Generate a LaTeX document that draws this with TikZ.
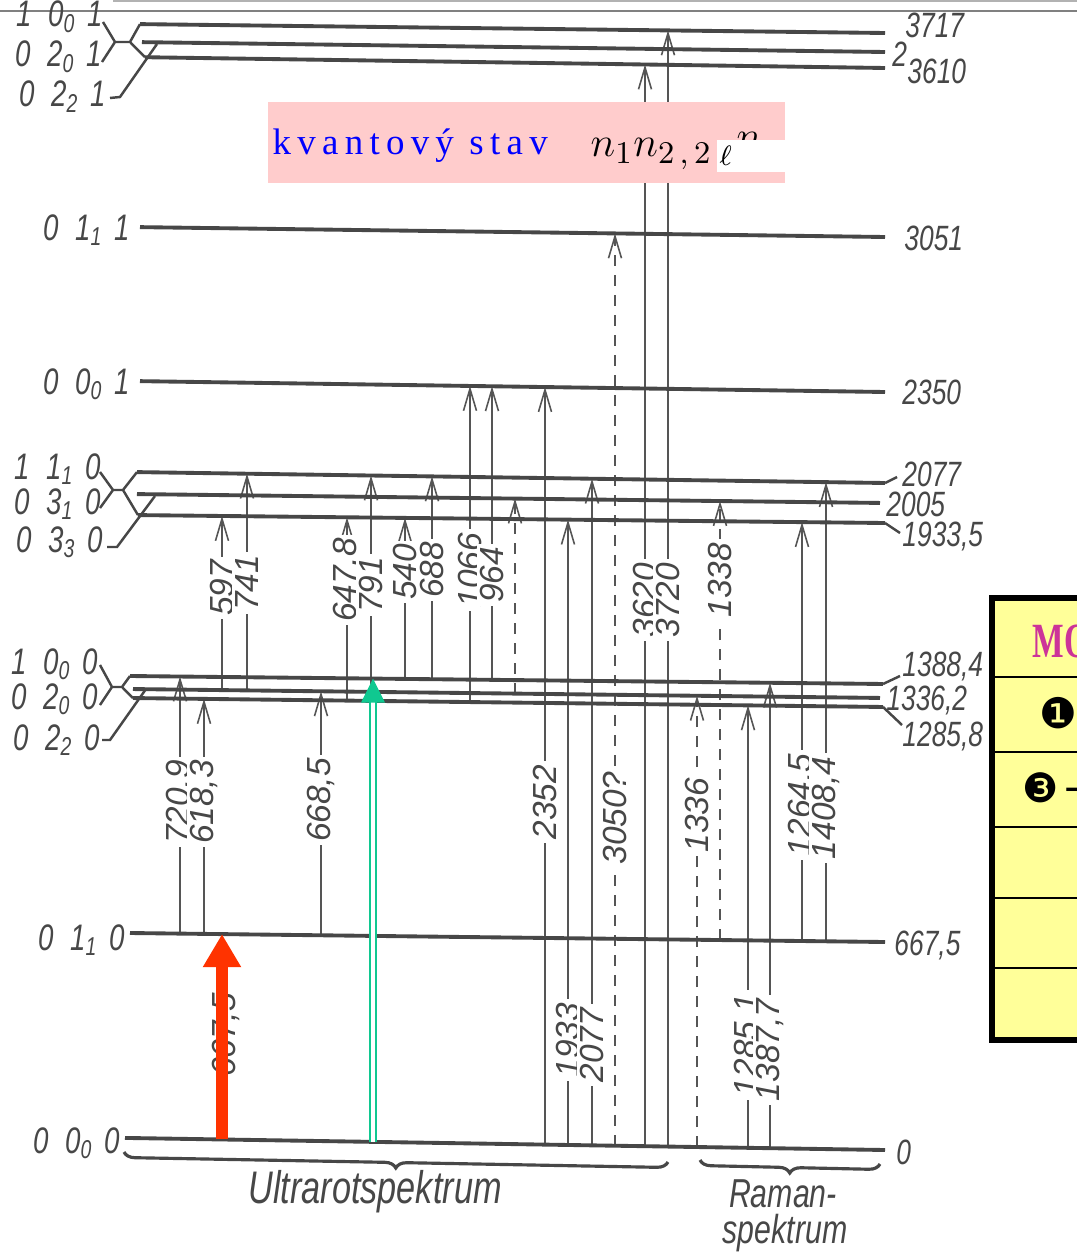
\documentclass[tikz,border=0pt]{standalone}
\usepackage{fontspec}
\setmainfont{Liberation Serif}
\newfontfamily\hand{Liberation Sans}[FakeStretch=0.75]
\newfontfamily\handw{Liberation Sans}
\newfontfamily\dings{DejaVu Sans}
\newfontfamily\kvfont{Liberation Serif}[LetterSpace=17]
\usetikzlibrary{arrows.meta,calc,decorations.pathreplacing}

\definecolor{levgray}{HTML}{474747}
\definecolor{trgray}{HTML}{555555}
\definecolor{redarr}{HTML}{FF3300}
\definecolor{grnarr}{HTML}{10C890}
\definecolor{pinkbox}{HTML}{FFCCCC}
\definecolor{tabyel}{HTML}{FFFF99}
\definecolor{tabmag}{HTML}{CC3399}

% quantum numbers n1 n2_l n3
\newcommand\qn[4]{#1\hspace{0.45em}#2\textsubscript{#3}\hspace{0.3em}#4}

\begin{document}
\begin{tikzpicture}[x=0.1mm, y=-0.1mm,
    lev/.style={draw=levgray, line width=1.1pt},
    brk/.style={draw=levgray, line width=0.7pt},
    tr/.style={draw=trgray, line width=0.45pt, -{Straight Barb[length=2.2mm,width=1.3mm]}},
    trd/.style={tr, dash pattern=on 1.1mm off 0.9mm},
    vlab/.style={font=\handw\itshape\fontsize{9.5}{10}\selectfont, text=levgray, rotate=90, fill=white, inner sep=1pt},
    llab/.style={font=\hand\itshape\fontsize{10.5}{11}\selectfont, text=levgray, inner sep=0.5pt, anchor=base east},
    rlab/.style={font=\hand\itshape\fontsize{10}{11}\selectfont, text=levgray, inner sep=0.5pt, anchor=west}]

    \fill[white] (0,0) rectangle (1077,1252);
    \useasboundingbox (0,0) rectangle (1077,1252);

    % Rahmenlinien oben
    \draw[gray!60, line width=0.6pt] (113,1) -- (1077,1);
    \draw[gray, line width=0.8pt] (0,11) -- (1077,11);

    % Niveaus (links bei x=130, rechts bei x=885)
    \foreach \n/\yl/\yr in {A1/24/33, A2/42/52, A3/57/68, B/227/237, C/381/392,
        D1/472/483, D2/494/503, D3/515/523, E1/676/684, E2/689/698, E3/698/707,
        F/933/942, G/1138/1150} {
        \coordinate (\n-l) at (130,\yl);
        \coordinate (\n-r) at (885,\yr);
    }

    % Uebergaenge: x / von / nach / Stil
    \foreach \x/\f/\t/\s in {180/F/E1/tr, 204/F/E3/tr, 321/F/E2/tr,
        222/E2/D3/tr, 247/E2/D1/tr, 347/E3/D3/tr, 371/E3/D1/tr, 405/E1/D3/tr,
        432/E1/D1/tr, 470/E3/C/tr, 492/E1/C/tr, 515/E2/D2/trd,
        545/G/C/tr, 568/G/D3/tr, 592/G/D1/tr, 615/G/B/trd, 645/G/A3/tr,
        668/G/A1/tr, 697/G/E2/trd, 748/G/E3/tr, 770/G/E1/tr,
        720/F/D2/trd, 802/F/D3/tr, 826/F/D1/tr, 222/G/F/tr}
        \draw[\s] ($(\f-l)!{(\x-130)/755}!(\f-r)$) -- ($(\t-l)!{(\x-130)/755}!(\t-r)$);

    % Wellenzahlen an den Uebergaengen
    \foreach \x/\y/\w in {180/802/{720,9}, 204/802/{618,3}, 321/800/{668,5},
        222/588/597, 247/583/741, 347/580/{647,8}, 371/585/791, 405/572/540,
        432/570/688, 470/570/1066, 492/575/964,
        545/802/2352, 568/1040/1933, 592/1045/2077, 615/818/{3050?},
        645/600/3620, 668/600/3720, 697/815/1336, 748/1045/{1285,1},
        770/1050/{1387,7}, 720/580/1338, 802/805/{1264,5}, 826/808/{1408,4},
        226/1035/{667,5}}
        \node[vlab] (w\x-\y) at (\x,\y) {\w};

    % Einzelniveaus
    \draw[lev] ($(B-l)!{10/755}!(B-r)$) -- (B-r);
    \draw[lev] ($(C-l)!{10/755}!(C-r)$) -- (C-r);
    \draw[lev] (F-l) -- (F-r);
    \draw[lev] ($(G-l)!{-5/755}!(G-r)$) -- (G-r);

    % Triplett oben
    \draw[lev] ($(A1-l)!{10/755}!(A1-r)$) -- (A1-r);
    \draw[lev] ($(A2-l)!{12/755}!(A2-r)$) -- (A2-r);
    \draw[lev] ($(A3-l)!{15/755}!(A3-r)$) -- (A3-r);
    \draw[brk] (103,22) -- (115,42) -- (102,62) (115,42) -- (130,42)
        ($(A1-l)!{10/755}!(A1-r)$) -- (130,42) -- ($(A3-l)!{15/755}!(A3-r)$)
        (110,98) -- (120,97) -- (157,44);

    % Triplett 2077 / 2005 / 1933,5
    \draw[lev] ($(D1-l)!{7/755}!(D1-r)$) -- (D1-r);
    \draw[lev] ($(D2-l)!{7/755}!(D2-r)$) -- ($(D2-l)!{750/755}!(D2-r)$);
    \draw[lev] ($(D3-l)!{8/755}!(D3-r)$) -- (D3-r);
    \draw[brk] (100,472) -- (113,490) -- (100,508) (113,490) -- (123,490)
        ($(D1-l)!{7/755}!(D1-r)$) -- (123,490) -- ($(D3-l)!{8/755}!(D3-r)$)
        (107,547) -- (117,547) -- (155,496);
    \draw[brk] (D1-r) -- (897,477) (D3-r) -- (900,533);

    % Triplett 1388,4 / 1336,2 / 1285,8
    \draw[lev] (E1-l) -- ($(E1-l)!{753/755}!(E1-r)$);
    \draw[lev] ($(E2-l)!{3/755}!(E2-r)$) -- ($(E2-l)!{750/755}!(E2-r)$);
    \draw[lev] ($(E3-l)!{3/755}!(E3-r)$) -- ($(E3-l)!{753/755}!(E3-r)$);
    \draw[brk] (100,665) -- (112,687) -- (100,705) (112,687) -- (122,687)
        (E1-l) -- (122,687) -- ($(E3-l)!{3/755}!(E3-r)$)
        (102,740) -- (110,740) -- (146,689);
    \draw[brk] ($(E1-l)!{753/755}!(E1-r)$) -- (900,676)
        ($(E3-l)!{753/755}!(E3-r)$) -- (902,725);

    % Quantenzahlen links
    \node[llab] (qA1) at (105,27) {\qn{1}{0}{0}{1}};
    \node[llab] (qA2) at (104,67) {\qn{0}{2}{0}{1}};
    \node[llab] (qA3) at (108,107) {\qn{0}{2}{2}{1}};
    \node[llab] (qB) at (132,240) {\qn{0}{1}{1}{1}};
    \node[llab] (qC) at (132,394) {\qn{0}{0}{0}{1}};
    \node[llab] (qD1) at (103,479) {\qn{1}{1}{1}{0}};
    \node[llab] (qD2) at (103,514) {\qn{0}{3}{1}{0}};
    \node[llab] (qD3) at (105,552) {\qn{0}{3}{3}{0}};
    \node[llab] (qE1) at (100,674) {\qn{1}{0}{0}{0}};
    \node[llab] (qE2) at (100,709) {\qn{0}{2}{0}{0}};
    \node[llab] (qE3) at (102,750) {\qn{0}{2}{2}{0}};
    \node[llab] (qF) at (127,950) {\qn{0}{1}{1}{0}};
    \node[llab] (qG) at (122,1153) {\qn{0}{0}{0}{0}};

    % Energiewerte rechts
    \node[rlab] (vA1) at (903,25) {3717};
    \node[rlab] (vA2) at (890,54) {2};
    \node[rlab] (vA3) at (905,71) {3610};
    \node[rlab] (vB) at (902,238) {3051};
    \node[rlab] (vC) at (900,392) {2350};
    \node[rlab] (vD1) at (900,474) {2077};
    \node[rlab] (vD2) at (884,504) {2005};
    \node[rlab] (vD3) at (900,536) {1933,5};
    \node[rlab] (vE1) at (900,666) {1388,4};
    \node[rlab] (vE2) at (884,700) {1336,2};
    \node[rlab] (vE3) at (900,736) {1285,8};
    \node[rlab] (vF) at (892,945) {667,5};
    \node[rlab] (vG) at (894,1152) {0};

    % Klammern unten
    \draw[brk, line width=0.9pt, decorate, decoration={brace, mirror, amplitude=1.1mm}]
        (124,1152) -- (668,1162);
    \draw[brk, line width=0.9pt, decorate, decoration={brace, mirror, amplitude=1.1mm}]
        (700,1160) -- (880,1164);
    \node[font=\hand\itshape\fontsize{13}{13}\selectfont, text=levgray] (uv) at (375,1192) {Ultrarotspektrum};
    \node[font=\hand\itshape\fontsize{11.5}{12}\selectfont, text=levgray, inner sep=0] (ram) at (783,1194) {Raman-};
    \node[font=\hand\itshape\fontsize{11.5}{12}\selectfont, text=levgray, inner sep=0] (spk) at (785,1233) {spektrum};

    % farbige Pfeile
    \draw[redarr, line width=1.2mm, -{Triangle[length=3.3mm,width=3.6mm]}]
        ($(G-l)!{92/755}!(G-r)$) -- ($(F-l)!{92/755}!(F-r)$);
    \coordinate (gtip) at ($(E1-l)!{243/755}!(E1-r)$);
    \draw[grnarr, line width=0.16mm, double=white, double distance=0.42mm]
        ($(G-l)!{243/755}!(G-r)$) -- ($(gtip)+(0,23)$);
    \fill[grnarr] (gtip) -- ++(-12,24) -- ++(24,0) -- cycle;

    % Kasten mit Quantenzustand
    \fill[pinkbox] (268,102) rectangle (785,183);
    \node[anchor=base west, text=blue, inner sep=0, font=\kvfont\fontsize{10.5}{12}\selectfont] (kv) at (272,155) {kvantový stav};
    \node[anchor=base west, inner sep=0, font=\fontsize{13}{14}\selectfont] (nn) at (590,157) {$n_1n_{2\,,\,2}$};
    \node[anchor=base west, inner sep=0, font=\fontsize{13}{14}\selectfont] (nthree) at (736,150) {$n$};
    \fill[white] (717,140) rectangle (785,172);
    \node[anchor=base west, inner sep=0, font=\fontsize{8}{9}\selectfont] (ell) at (719,166) {$\ell$};

    % Tabelle rechts (abgeschnitten)
    \begin{scope}
        \clip (0,0) rectangle (1077,1252);
        \fill[tabyel] (992,598) rectangle (1100,1040);
        \foreach \y in {677,752,827,898,968}
            \draw[line width=0.6pt] (992,\y) -- (1100,\y);
        \draw[line width=1.6pt] (992,598) rectangle (1100,1040);
        \node[anchor=base west, inner sep=0, text=tabmag, font=\bfseries\fontsize{14}{15}\selectfont] (tmo) at (1032,657) {\scalebox{0.68}[1]{MO}};
        \node[inner sep=0, font=\dings\fontsize{12}{12}\selectfont] (tone) at (1058,713) {❶};
        \node[anchor=west, inner sep=0, font=\dings\fontsize{11.5}{12}\selectfont] (tthree) at (1022,788) {❸\kern1pt+};
    \end{scope}

\end{tikzpicture}
\end{document}
